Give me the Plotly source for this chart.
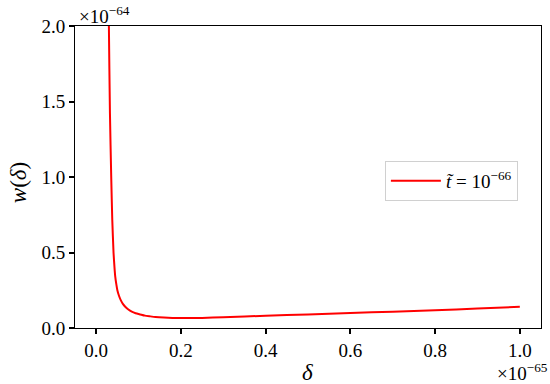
import plotly.graph_objects as go

# delta in units of 1e-65, w in units of 1e-64
delta = [0.027, 0.030, 0.0325, 0.0355, 0.038, 0.041, 0.043, 0.045, 0.0475, 0.050,
         0.054, 0.058, 0.063, 0.0686, 0.076, 0.084, 0.093, 0.104, 0.115, 0.128,
         0.14, 0.16, 0.18, 0.2, 0.25, 0.3, 0.4, 0.5, 0.6, 0.7, 0.8, 0.9, 1.0]
w = [3.0, 2.00, 1.42, 1.00, 0.715, 0.497, 0.41, 0.34, 0.29, 0.25,
     0.212, 0.185, 0.16, 0.141, 0.122, 0.108, 0.098, 0.09, 0.082, 0.077,
     0.073, 0.069, 0.067, 0.066, 0.067, 0.071, 0.0815, 0.09, 0.099, 0.108, 0.117, 0.129, 0.141]

x_ticks = [0.0, 0.2, 0.4, 0.6, 0.8, 1.0]
y_ticks = [0.0, 0.5, 1.0, 1.5, 2.0]
legend_label = "<i>t̃</i> = 10<sup>−66</sup>"

FONT = "Liberation Serif"
FS = 19

fig = go.Figure()
fig.add_trace(go.Scatter(x=delta, y=w, mode="lines", name=legend_label,
                         line=dict(color="red", width=2, shape="spline", smoothing=0.5)))

axis_common = dict(showline=True, linecolor="black", linewidth=1, mirror=True,
                   ticks="outside", ticklen=5, tickwidth=1.5, tickcolor="black",
                   showgrid=False, zeroline=False,
                   tickfont=dict(family=FONT, size=FS, color="black"))

fig.update_layout(
    width=550, height=384,
    margin=dict(l=75, r=9, t=26, b=56),
    paper_bgcolor="white", plot_bgcolor="white",
    showlegend=True,
    legend=dict(x=0.665, y=0.553, xanchor="left", yanchor="top",
                bgcolor="white", bordercolor="#d0d0d0", borderwidth=1,
                itemwidth=50,
                font=dict(family=FONT, size=FS, color="black")),
    xaxis=dict(range=[-0.05, 1.05], tickvals=x_ticks,
               ticktext=[f"{v:.1f}" for v in x_ticks], **axis_common),
    yaxis=dict(range=[0, 2.0], tickvals=y_ticks,
               ticktext=[f"{v:.1f}" for v in y_ticks], **axis_common),
)

fig.add_annotation(text="<i>δ</i>", xref="paper", yref="paper", x=0.498, y=-0.1,
                   xanchor="center", yanchor="top", showarrow=False,
                   font=dict(family=FONT, size=23, color="black"))
fig.add_annotation(text="<i>w</i>(<i>δ</i>)", xref="paper", yref="paper", x=-0.122, y=0.48,
                   xanchor="center", yanchor="middle", showarrow=False, textangle=-90,
                   font=dict(family=FONT, size=23, color="black"))
fig.add_annotation(text="×10<sup>−64</sup>", xref="paper", yref="paper", x=0.005, y=0.99,
                   xanchor="left", yanchor="bottom", showarrow=False,
                   font=dict(family=FONT, size=FS, color="black"))
fig.add_annotation(text="×10<sup>−65</sup>", xref="paper", yref="paper", x=1.019, y=-0.1,
                   xanchor="right", yanchor="top", showarrow=False,
                   font=dict(family=FONT, size=FS, color="black"))

fig.write_html("out.html", config={"displayModeBar": False},
               post_script="document.body.style.margin='0';")
